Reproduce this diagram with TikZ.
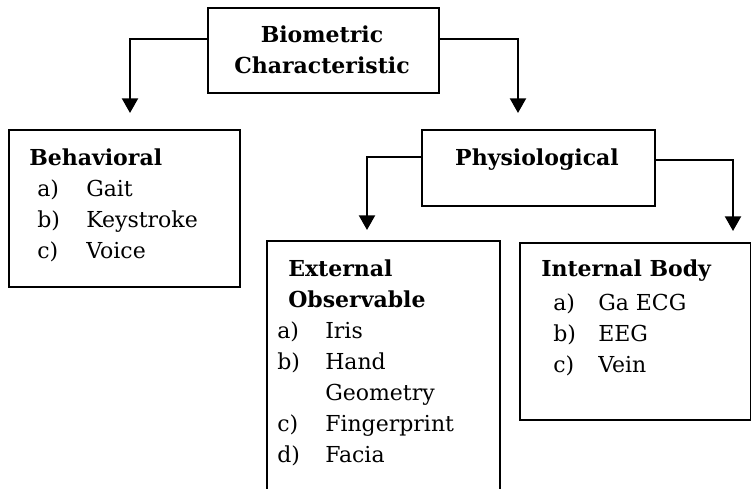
\documentclass[tikz,border=0pt]{standalone}
\usepackage{fontspec}
\setmainfont{DejaVu Serif}
\usetikzlibrary{arrows.meta}
\begin{document}
\begin{tikzpicture}[x=0.75pt,y=-0.75pt,
  box/.style={draw, line width=1.5pt, inner sep=0pt, anchor=north west},
  head/.style={font=\fontsize{16.5}{20}\selectfont\bfseries, anchor=base west, inner sep=0pt},
  ctr/.style={head, anchor=base},
  item/.style={font=\fontsize{16.5}{20}\selectfont, anchor=base west, inner sep=0pt},
  link/.style={line width=1.6pt, -{Triangle[width=12pt,length=11pt]}}]
\clip (0,0) rectangle (751,489);

% boxes
\node[box, minimum width=173.25pt, minimum height=63.75pt] (bio) at (207,7) {};
\node[box, minimum width=173.25pt, minimum height=117.75pt] (beh) at (8,129) {};
\node[box, minimum width=174.75pt, minimum height=57pt] (phy) at (421,129) {};
\node[box, minimum width=174.75pt, minimum height=210pt] (ext) at (266,240) {};
\node[box, minimum width=173.25pt, minimum height=132.75pt] (int) at (519,242) {};

% root label
\node[ctr] (bioA) at (322,42) {Biometric};
\node[ctr] (bioB) at (322,73) {Characteristic};

% behavioral list
\node[head] (behH) at (29,165) {Behavioral};
\node[item] (behLa) at (37,196) {a)};  \node[item] (behTa) at (86,196) {Gait};
\node[item] (behLb) at (37,227) {b)};  \node[item] (behTb) at (86,227) {Keystroke};
\node[item] (behLc) at (37,258) {c)};  \node[item] (behTc) at (86,258) {Voice};

% physiological
\node[ctr] (phyH) at (537,165) {Physiological};

% external observable list
\node[head] (extH1) at (288,276) {External};
\node[head] (extH2) at (288,307) {Observable};
\node[item] (extLa) at (277,338) {a)};  \node[item] (extTa) at (325,338) {Iris};
\node[item] (extLb) at (277,369) {b)};  \node[item] (extTb) at (325,369) {Hand};
                                        \node[item] (extTb2) at (325,400) {Geometry};
\node[item] (extLc) at (277,431) {c)};  \node[item] (extTc) at (325,431) {Fingerprint};
\node[item] (extLd) at (277,462) {d)};  \node[item] (extTd) at (325,462) {Facia};

% internal body list
\node[head] (intH) at (541,276) {Internal Body};
\node[item] (intLa) at (553,310) {a)};  \node[item] (intTa) at (598,310) {Ga ECG};
\node[item] (intLb) at (553,341) {b)};  \node[item] (intTb) at (598,341) {EEG};
\node[item] (intLc) at (553,372) {c)};  \node[item] (intTc) at (598,372) {Vein};

% connector bends and arrow tips
\coordinate (bendA) at (130,39);  \coordinate (tipA) at (130,113);
\coordinate (bendB) at (518,39);  \coordinate (tipB) at (518,113);
\coordinate (bendC) at (367,157); \coordinate (tipC) at (367,230);
\coordinate (bendD) at (733,160); \coordinate (tipD) at (733,231);

\draw[link] (bio.west |- bendA) -- (bendA) -- (tipA);
\draw[link] (bio.east |- bendB) -- (bendB) -- (tipB);
\draw[link] (phy.west |- bendC) -- (bendC) -- (tipC);
\draw[link] (phy.east |- bendD) -- (bendD) -- (tipD);
\end{tikzpicture}
\end{document}
